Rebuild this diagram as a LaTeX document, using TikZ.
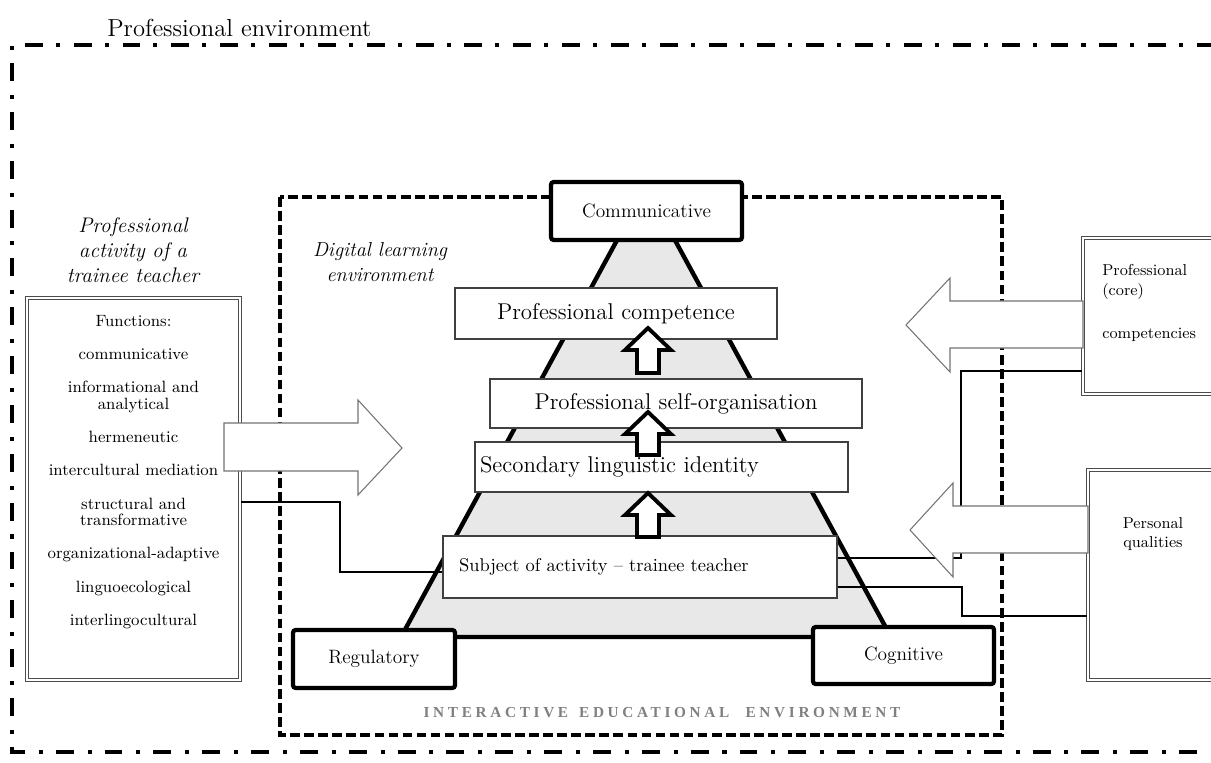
\documentclass[tikz,border=0pt]{standalone}
\usepackage{fontspec}
\newfontfamily\ieefont[LetterSpace=24]{Liberation Serif}
\usepackage{tikz}
\usetikzlibrary{positioning,calc}
\tikzset{>=stealth,
  pole/.style={draw,line width=2.4pt,fill=white,rounded corners=1.5pt,inner sep=0pt,
    font=\fontsize{11}{13}\selectfont},
  stage/.style={draw=black!75,line width=0.8pt,fill=white,inner sep=0pt,
    font=\fontsize{13}{15}\selectfont},
  sidebox/.style={draw=black!70,double,double distance=1pt,line width=0.8pt,fill=white,inner sep=0pt},
  conn/.style={line width=1pt},
  fatarrow/.style={draw=black!55,line width=0.6pt,fill=white,line join=miter},
  uparrow/.style={draw,line width=2.2pt,fill=white,line join=miter},
  small/.style={font=\fontsize{9.3}{9.4}\selectfont,inner sep=0pt}
}

\begin{document}
\begin{tikzpicture}[x=0.02cm,y=-0.02cm]
\useasboundingbox (0,0) rectangle (1211,763);

% frames
\draw[line width=2.8pt,dash pattern=on 10.2pt off 7.9pt on 2.3pt off 7.4pt] (1215,45) -- (12,45) -- (12,752) -- (1215,752);
\node[anchor=base west,inner sep=0pt,font=\fontsize{14}{16}\selectfont] (EnvLabel) at (107,37) {Professional environment};
\draw[line width=2.2pt,dash pattern=on 5.5pt off 2.5pt] (280,197) rectangle (1002,735);
\node[text=black!50,font=\ieefont\fontsize{8.7}{10}\selectfont\bfseries] (IeeLabel) at (662,713) {INTERACTIVE\hspace{2pt} EDUCATIONAL\hspace{5pt} ENVIRONMENT};

\node[align=center,font=\fontsize{12}{14.2}\selectfont\itshape] (ActLabel) at (133,250) {Professional\\activity of a\\trainee teacher};
\node[align=center,font=\fontsize{11.5}{14}\selectfont\itshape] (DigLabel) at (380,262) {Digital learning\\environment};

% pyramid
\draw[line width=2.5pt,fill=black!9] (401,637) -- (646,187) -- (891,637) -- cycle;

\node[stage,minimum width=6.44cm,minimum height=1.02cm] (Comp) at (616,313.5) {Professional competence};
\node[stage,minimum width=7.44cm,minimum height=0.98cm] (Org) at (676,403.5) {Professional self-organisation};
\node[stage,minimum width=7.46cm,minimum height=1cm,inner xsep=0.1cm,text width=7.26cm,align=left] (Ident) at (661.5,467) {Secondary linguistic identity};
\node[stage,minimum width=7.88cm,minimum height=1.24cm,inner xsep=0.32cm,text width=7.24cm,align=left,font=\fontsize{10.5}{12}\selectfont] (Subj) at (640,567) {Subject of activity -- trainee teacher};

\foreach \t/\b in {328/373,412/455,493/537}
  \draw[uparrow] (648,\t) -- (671,\t+22) -- (659,\t+22) -- (659,\b) -- (637,\b) -- (637,\t+22) -- (625,\t+22) -- cycle;

\node[pole,minimum width=3.82cm,minimum height=1.16cm] (Comm) at (646.5,211) {Communicative};
\node[pole,minimum width=3.24cm,minimum height=1.16cm] (Reg) at (374,659) {Regulatory};
\node[pole,minimum width=3.62cm,minimum height=1.14cm] (Cog) at (903.5,655.5) {Cognitive};

% side boxes
\node[sidebox,minimum width=4.26cm,minimum height=7.64cm] (Func) at (133.5,489) {};
\node[small,align=center] (FuncList) at (133.5,472) {Functions:\\[9.5pt]
  communicative\\[9.5pt]
  informational and\\analytical\\[9.5pt]
  hermeneutic\\[9.5pt]
  intercultural mediation\\[9.5pt]
  structural and\\transformative\\[9.5pt]
  organizational-adaptive\\[9.5pt]
  linguoecological\\[9.5pt]
  interlingocultural};

\node[sidebox,minimum width=2.84cm,minimum height=3.12cm] (Core) at (1154,316) {};
\node[small,font=\fontsize{9}{11.3}\selectfont,align=left,anchor=west] (CoreText) at (1102,303) {Professional\\(core)\\[13pt]competencies};
\node[sidebox,minimum width=2.74cm,minimum height=4.2cm] (Pers) at (1156.5,575) {};
\node[small,font=\fontsize{9}{11.3}\selectfont,align=center] (PersText) at (1153,534) {Personal\\qualities};

% connectors
\draw[conn] (Func.east |- 0,502) -| (340,572) -- (Subj.west |- 0,572);
\draw[conn] (Core.west |- 0,371) -| (961,558) -- (Subj.east |- 0,558);
\draw[conn] (Subj.east |- 0,587) -| (962,616) -- (Pers.west |- 0,616);

% big arrows
\draw[fatarrow] (224,423) -- (358,423) -- (358,400) -- (402,448) -- (358,495) -- (358,471) -- (224,471) -- cycle;
\draw[fatarrow] (1083,301) -- (950,301) -- (950,278) -- (906,325) -- (950,372) -- (950,348) -- (1083,348) -- cycle;
\draw[fatarrow] (1088,506) -- (953,506) -- (953,483) -- (910,530) -- (953,577) -- (953,553) -- (1088,553) -- cycle;
\end{tikzpicture}
\end{document}
